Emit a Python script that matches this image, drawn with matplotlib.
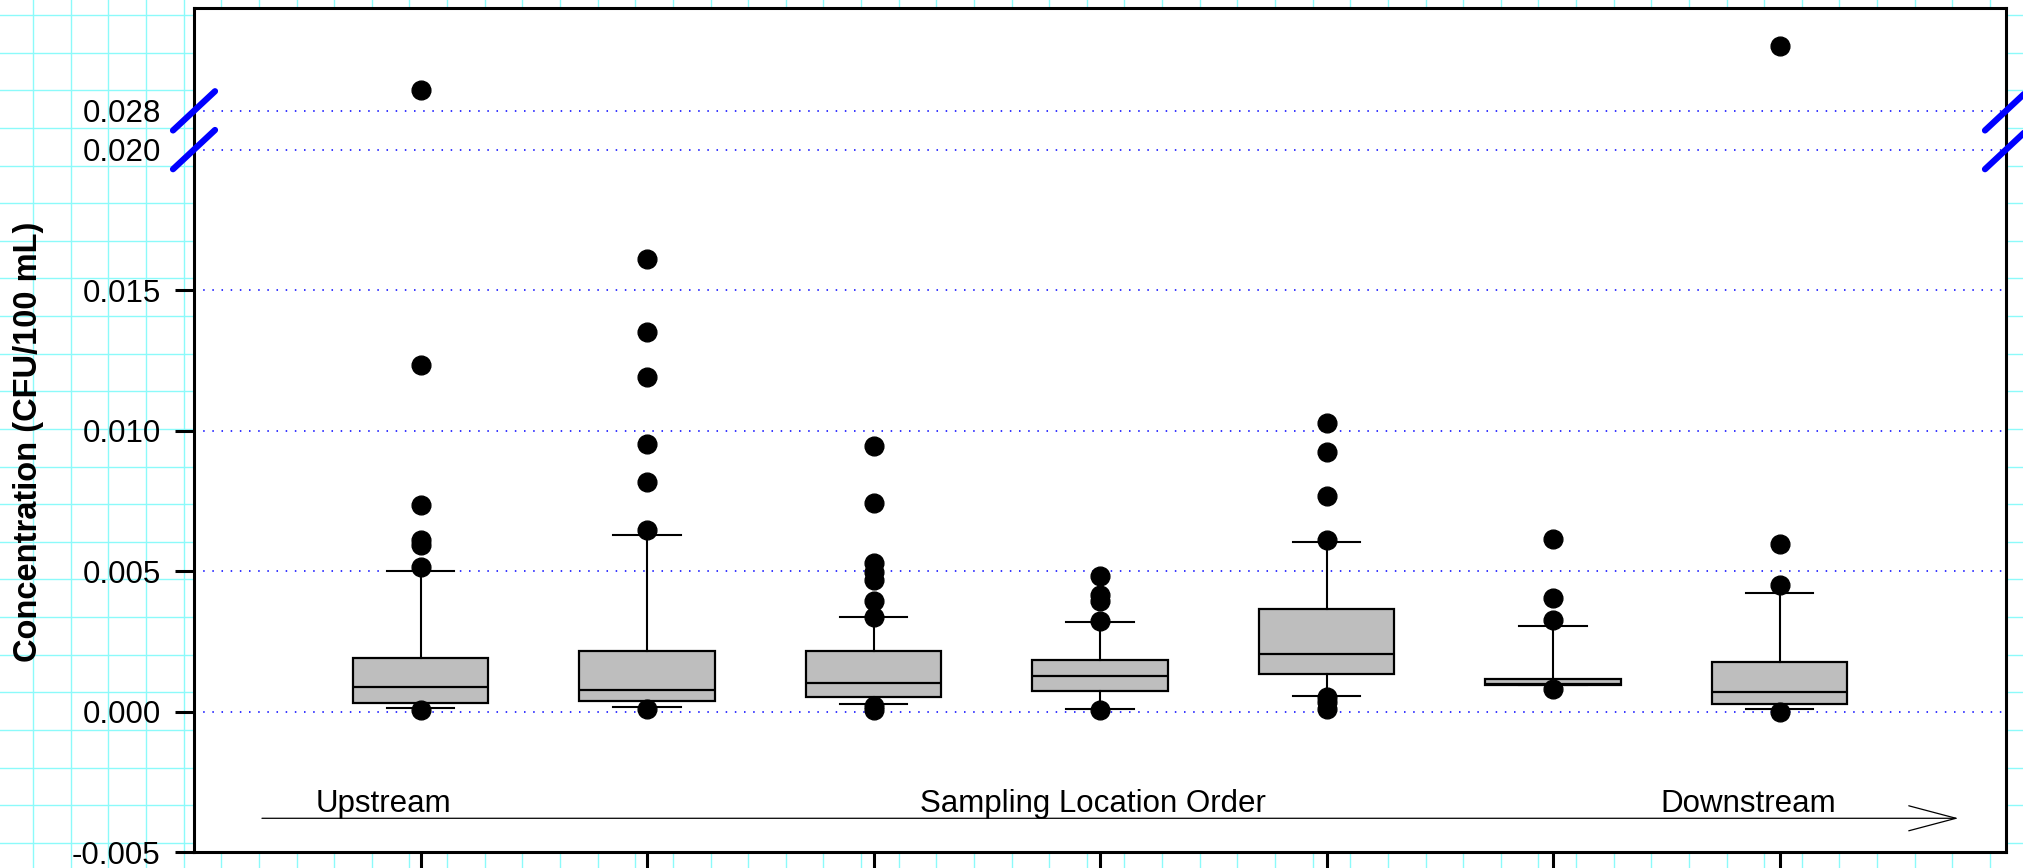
import numpy as np
import matplotlib
matplotlib.use("Agg")
import matplotlib.pyplot as plt
import matplotlib.transforms as mtransforms

plt.rcParams['font.family'] = ['Liberation Sans', 'DejaVu Sans']

# box statistics, one entry per sampling location (upstream -> downstream)
positions = [1, 2, 3, 4, 5, 6, 7]
q1 = [0.00030, 0.00036, 0.00052, 0.00074, 0.00132, 0.00095, 0.00025]
medians = [0.00089, 0.00076, 0.00102, 0.00127, 0.00203, 0.00097, 0.00071]
q3 = [0.00192, 0.00217, 0.00215, 0.00182, 0.00364, 0.00115, 0.00176]
whis_low = [0.00014, 0.00015, 0.00027, 0.00010, 0.00055, 0.00095, 0.00010]
whis_high = [0.00501, 0.00627, 0.00336, 0.00318, 0.00603, 0.00303, 0.00421]
outliers = [
    [0.00004, 0.00514, 0.00591, 0.00609, 0.00735, 0.01233, 0.02874],
    [0.00010, 0.00645, 0.00818, 0.00951, 0.01191, 0.01350, 0.01609],
    [0.00004, 0.00021, 0.00336, 0.00392, 0.00467, 0.00496, 0.00528, 0.00742, 0.00944],
    [0.00006, 0.00321, 0.00395, 0.00413, 0.00484],
    [0.00010, 0.00033, 0.00051, 0.00609, 0.00767, 0.00924, 0.01027],
    [0.00080, 0.00324, 0.00404, 0.00615],
    [0.00000, 0.00450, 0.00596, 0.03030],
]

yticks = [-0.005, 0.000, 0.005, 0.010, 0.015, 0.020, 0.028]
ytick_labels = ['-0.005', '0.000', '0.005', '0.010', '0.015', '0.020', '0.028']
flow_labels = ['Upstream', 'Sampling Location Order', 'Downstream']
flow_label_x = [0.837, 3.97, 6.86]

# broken y axis: 0.020 .. 0.028 squeezed into a small gap
brk_lo, brk_hi, brk_gap = 0.020, 0.028, 0.00138


def fwd(v):
    v = np.asarray(v, dtype=float)
    return np.where(v <= brk_lo, v,
                    np.where(v >= brk_hi, v - (brk_hi - brk_lo) + brk_gap,
                             brk_lo + (v - brk_lo) * brk_gap / (brk_hi - brk_lo)))


def inv(u):
    u = np.asarray(u, dtype=float)
    return np.where(u <= brk_lo, u,
                    np.where(u >= brk_lo + brk_gap, u + (brk_hi - brk_lo) - brk_gap,
                             brk_lo + (u - brk_lo) * (brk_hi - brk_lo) / brk_gap))


W, H = 2023, 868
fig = plt.figure(figsize=(W / 100, H / 100), dpi=100)
fig.patch.set_facecolor('white')

# graph paper behind the plot
bg = fig.add_axes([0, 0, 1, 1], zorder=0)
bg.set_xlim(0, W)
bg.set_ylim(H, 0)
for gx in np.arange(33.2 - 37.63, W, 37.63):
    bg.axvline(gx, color='#8cfafa', lw=1.0)
for gy in np.arange(15.0 - 37.63, H, 37.63):
    bg.axhline(gy, color='#8cfafa', lw=1.0)
bg.axis('off')

ax = fig.add_axes([194 / W, 1 - 852 / H, (2006 - 194) / W, (852 - 8) / H], zorder=1)
ax.set_facecolor('white')
ax.set_yscale('function', functions=(fwd, inv))
ax.set_xlim(0, 8)
ax.set_ylim(-0.005, 0.03166)

for yv in yticks[1:]:
    ax.axhline(yv, color='blue', lw=1.1, dashes=(1, 5), zorder=1)

stats = []
for i in range(len(positions)):
    stats.append(dict(med=medians[i], q1=q1[i], q3=q3[i],
                      whislo=whis_low[i], whishi=whis_high[i],
                      fliers=outliers[i]))

ax.bxp(stats, positions=positions, widths=0.6, capwidths=0.3,
       patch_artist=True, manage_ticks=False,
       boxprops=dict(facecolor='#bebebe', edgecolor='black', lw=1.6),
       medianprops=dict(color='black', lw=1.6),
       whiskerprops=dict(color='black', lw=1.5),
       capprops=dict(color='black', lw=1.5),
       flierprops=dict(marker='o', markerfacecolor='black',
                       markeredgecolor='black', markersize=13.5),
       zorder=3)

# direction arrow and labels
arrow_y = -0.0038
ax.annotate('', xy=(7.79, arrow_y), xytext=(0.30, arrow_y),
            arrowprops=dict(arrowstyle='->, head_length=3.4, head_width=0.9',
                            mutation_scale=10, lw=0.9, color='black',
                            shrinkA=0, shrinkB=0))
for lx, txt in zip(flow_label_x, flow_labels):
    ax.text(lx, -0.00356, txt, ha='center', va='baseline', fontsize=22.5)

ax.set_yticks(yticks, labels=ytick_labels)
ax.set_xticks(positions, labels=[])
ax.tick_params(axis='both', direction='out', length=14, width=2.2, labelsize=22.5, pad=10)
for t in ax.yaxis.get_major_ticks()[5:]:
    t.tick1line.set_visible(False)
for sp in ax.spines.values():
    sp.set_linewidth(2.2)

# axis break marks on both sides
blend = mtransforms.blended_transform_factory(ax.transAxes, ax.transData)
for xa in (0, 1):
    for yv in (brk_lo, brk_hi):
        tr = fig.dpi_scale_trans + mtransforms.ScaledTranslation(xa, yv, blend)
        ax.plot([-0.21, 0.21], [-0.196, 0.196], color='blue', lw=4.5,
                solid_capstyle='round', transform=tr, clip_on=False, zorder=5)

fig.text(29 / W, 1 - 441.5 / H, 'Concentration (CFU/100 mL)', rotation=90,
         ha='center', va='center', fontsize=23.5, fontweight='bold')

fig.savefig('out.png', dpi=100)
